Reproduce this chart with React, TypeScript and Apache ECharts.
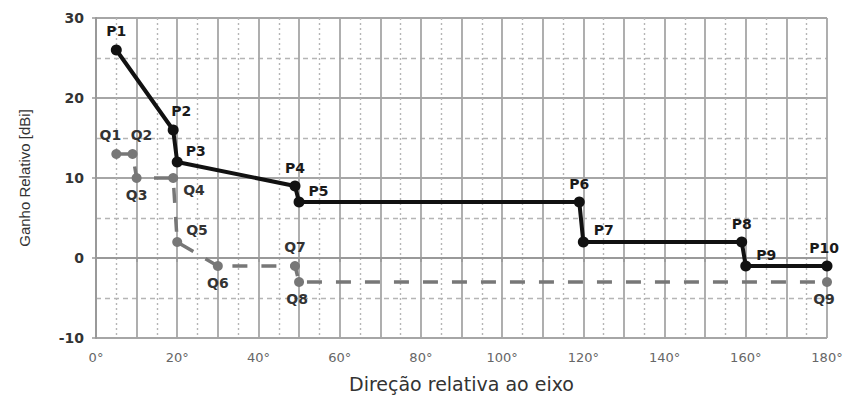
import React, { useEffect, useRef } from "react";
import * as echarts from "echarts";

const pNames = ["P1", "P2", "P3", "P4", "P5", "P6", "P7", "P8", "P9", "P10"];
const pX = [5, 19, 20, 49, 50, 119, 120, 159, 160, 180];
const pY = [26, 16, 12, 9, 7, 7, 2, 2, -1, -1];

const qNames = ["Q1", "Q2", "Q3", "Q4", "Q5", "Q6", "Q7", "Q8", "Q9"];
const qX = [5, 9, 10, 19, 20, 30, 49, 50, 180];
const qY = [13, 13, 10, 10, 2, -1, -1, -3, -3];

const xTickStep = 20;
const yTicks = [-10, 0, 10, 20, 30];

const pLabelPos: Record<string, any> = {
  P1: { position: "top", offset: [0, -2] },
  P2: { position: "top", offset: [8, -2] },
  P3: { position: "right", offset: [-2, -11] },
  P4: { position: "top", offset: [0, -1] },
  P5: { position: "right", offset: [-1, -11] },
  P6: { position: "top", offset: [0, -1] },
  P7: { position: "right", offset: [0, -12] },
  P8: { position: "top", offset: [0, -1] },
  P9: { position: "right", offset: [0, -11] },
  P10: { position: "top", offset: [-3, -1] },
};
const qLabelPos: Record<string, any> = {
  Q1: { position: "top", offset: [-6, -2] },
  Q2: { position: "top", offset: [9, -2] },
  Q3: { position: "bottom", offset: [0, 0] },
  Q4: { position: "right", offset: [0, 12] },
  Q5: { position: "right", offset: [-1, -12] },
  Q6: { position: "bottom", offset: [0, 0] },
  Q7: { position: "top", offset: [0, -2] },
  Q8: { position: "bottom", offset: [-2, 0] },
  Q9: { position: "bottom", offset: [-3, 0] },
};

export default function App() {
  const ref = useRef<HTMLDivElement>(null);
  useEffect(() => {
    if (!ref.current) return;
    const chart = echarts.init(ref.current, null, { renderer: "svg" });
    const labelStyle = {
      show: true,
      fontFamily: "DejaVu Sans, sans-serif",
      fontSize: 14,
      fontWeight: "bold" as const,
      color: "#1a1a1a",
      formatter: (p: any) => p.name,
    };
    const pData = pX.map((x, i) => ({
      name: pNames[i],
      value: [x, pY[i]],
      label: { ...labelStyle, ...pLabelPos[pNames[i]] },
    }));
    const qData = qX.map((x, i) => ({
      name: qNames[i],
      value: [x, qY[i]],
      label: { ...labelStyle, color: "#333", ...qLabelPos[qNames[i]] },
    }));
    chart.setOption({
      animation: false,
      grid: { left: 96, right: 22, top: 18, bottom: 55, containLabel: false },
      xAxis: {
        type: "value",
        min: 0,
        max: 180,
        interval: 10,
        name: "Direção relativa ao eixo",
        nameLocation: "middle",
        nameGap: 36,
        nameTextStyle: { fontFamily: "DejaVu Sans, sans-serif", fontSize: 19, color: "#333" },
        axisLine: { show: true, lineStyle: { color: "#999", width: 2 } },
        axisTick: { show: true, length: 4, lineStyle: { color: "#999", width: 1.5 } },
        axisLabel: {
          fontFamily: "DejaVu Sans, sans-serif",
          fontSize: 13,
          color: "#666",
          margin: 13,
          formatter: (v: number) => (v % xTickStep === 0 ? v + "°" : ""),
        },
        splitLine: { show: true, lineStyle: { color: "#a6a6a6", width: 1.8 } },
        minorTick: { show: false, splitNumber: 2 },
        minorSplitLine: { show: true, lineStyle: { color: "#b5b5b5", width: 1.4, type: [2, 3] } },
      },
      yAxis: {
        type: "value",
        min: yTicks[0],
        max: yTicks[yTicks.length - 1],
        interval: 10,
        name: "Ganho Relativo [dBi]",
        nameLocation: "middle",
        nameGap: 64,
        nameTextStyle: { fontFamily: "Liberation Sans, sans-serif", fontSize: 15, color: "#333" },
        axisLine: { show: true, lineStyle: { color: "#999", width: 2 } },
        axisTick: { show: true, length: 4, lineStyle: { color: "#999", width: 1.5 } },
        axisLabel: {
          fontFamily: "DejaVu Sans, sans-serif",
          fontSize: 14,
          fontWeight: "bold",
          color: "#333",
          margin: 12,
        },
        splitLine: { show: true, lineStyle: { color: "#a6a6a6", width: 1.8 } },
        minorTick: { show: false, splitNumber: 2 },
        minorSplitLine: { show: true, lineStyle: { color: "#b5b5b5", width: 1.4, type: [5, 4] } },
      },
      series: [
        {
          type: "line",
          name: "Q",
          data: qData,
          symbol: "circle",
          symbolSize: 10,
          itemStyle: { color: "#777" },
          lineStyle: { color: "#777", width: 3.5, type: [15, 14] },
          z: 3,
        },
        {
          type: "line",
          name: "P",
          data: pData,
          symbol: "circle",
          symbolSize: 11,
          itemStyle: { color: "#111" },
          lineStyle: { color: "#111", width: 4 },
          z: 4,
        },
      ],
    });
    return () => chart.dispose();
  }, []);
  return <div ref={ref} style={{ width: 849, height: 398, position: "absolute", left: 0, top: 0, background: "#fff" }} />;
}
